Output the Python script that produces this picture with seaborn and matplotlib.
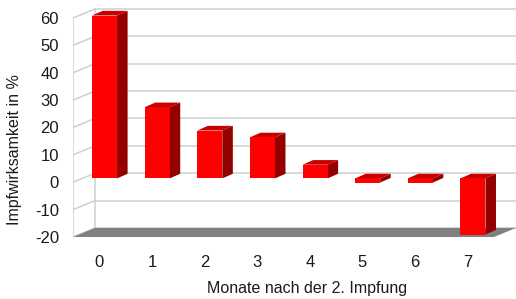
import numpy as np
import pandas as pd
import matplotlib.pyplot as plt
from matplotlib.patches import Polygon
import seaborn as sns

# data
months = ['0', '1', '2', '3', '4', '5', '6', '7']
wirksamkeit = [59.5, 26, 17.5, 15, 5, -1.5, -1.5, -20.5]
y_ticks = [-20, -10, 0, 10, 20, 30, 40, 50, 60]

df = pd.DataFrame({'Monat': months, 'Wirksamkeit': wirksamkeit})

sns.set_style('white')
plt.rcParams['font.family'] = ['Liberation Sans', 'DejaVu Sans']

W, H = 516, 299
fig = plt.figure(figsize=(W / 100, H / 100), dpi=100)
ax = fig.add_axes([73 / W, (H - 237) / H, (W - 73) / W, (237 - 8) / H])

# depth of the box (back wall offset) and of the bars, in data units
wall_dx, wall_dy = 0.418, 3.3
bar_ox, bar_oy = 0.10, 1.4
bar_dx, bar_dy = 0.2, 1.7

sns.barplot(data=df, x='Monat', y='Wirksamkeit', order=months, color='#ff0000',
            saturation=1, width=0.475, linewidth=0, ax=ax, zorder=5)

ymin, ymax = y_ticks[0], y_ticks[-1]
x0, x1 = -0.5, len(months) - 0.5

# back wall grid and left wall
grid = '#cfcfcf'
for v in y_ticks:
    ax.plot([x0 + wall_dx, x1 + wall_dx], [v + wall_dy, v + wall_dy], color=grid, lw=1.1, zorder=1)
    ax.plot([x0, x0 + wall_dx], [v, v + wall_dy], color=grid, lw=1.1, zorder=1)
ax.plot([x0 + wall_dx, x0 + wall_dx], [ymin + wall_dy, ymax + wall_dy], color=grid, lw=1.1, zorder=1)
ax.plot([x0, x0], [ymin, ymax], color=grid, lw=1.1, zorder=1)

# floor
ax.add_patch(Polygon([(x0, ymin), (x1, ymin), (x1 + wall_dx, ymin + wall_dy), (x0 + wall_dx, ymin + wall_dy)],
                     closed=True, facecolor='#808080', edgecolor='none', zorder=2))

# turn the flat bars into blocks
for p in ax.patches:
    if not hasattr(p, 'get_width') or p.get_facecolor()[:3] != (1.0, 0.0, 0.0):
        continue
    p.set_x(p.get_x() + bar_ox)
    p.set_y(p.get_y() + bar_oy)
    px0, px1 = p.get_x(), p.get_x() + p.get_width()
    ya, yb = sorted([p.get_y(), p.get_y() + p.get_height()])
    side = [(px1, ya), (px1, yb), (px1 + bar_dx, yb + bar_dy), (px1 + bar_dx, ya + bar_dy)]
    top = [(px0, yb), (px1, yb), (px1 + bar_dx, yb + bar_dy), (px0 + bar_dx, yb + bar_dy)]
    ax.add_patch(Polygon(side, closed=True, facecolor='#940000', edgecolor='none', zorder=4))
    ax.add_patch(Polygon(top, closed=True, facecolor='#c80000', edgecolor='none', zorder=4))

ax.set_xlim(x0, x1 + wall_dx)
ax.set_ylim(ymin, ymax + 3.65)
ax.set_yticks(y_ticks)
ax.set_yticklabels([str(v) for v in y_ticks], fontsize=12, color='#1a1a1a')
ax.set_xticks(range(len(months)))
ax.set_xticklabels(months, fontsize=12, color='#1a1a1a')
ax.tick_params(axis='y', length=0, pad=10)
ax.tick_params(axis='x', length=0, pad=13)
ax.set_xlabel('')
ax.set_ylabel('')
for s in ax.spines.values():
    s.set_visible(False)

fig.text(307 / W, 1 - 289 / H, 'Monate nach der 2. Impfung', ha='center', va='center',
         fontsize=11.5, color='#1a1a1a')
fig.text(15 / W, 1 - 150 / H, 'Impfwirksamkeit in %', ha='center', va='center',
         rotation=90, fontsize=11.5, color='#1a1a1a')

fig.savefig('out.png', dpi=100)
